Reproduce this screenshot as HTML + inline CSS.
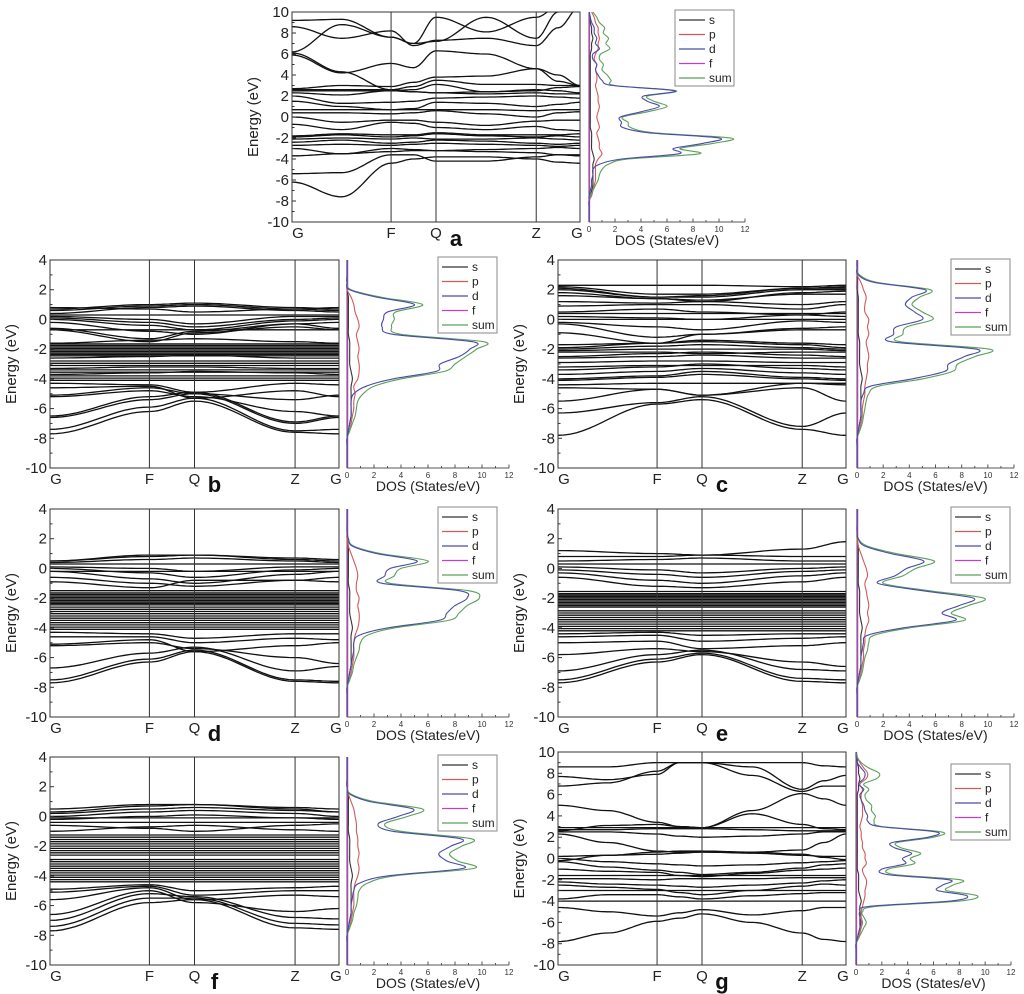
<!DOCTYPE html>
<html><head><meta charset="utf-8"><style>
body{margin:0;background:#fff;}
svg{display:block;font-family:"Liberation Sans",sans-serif;}
</style></head><body>
<svg id="fig" width="1024" height="994" viewBox="0 0 1024 994" xmlns="http://www.w3.org/2000/svg"></svg>
<script>
// ---- shared labels ----
const kLabels = ["G","F","Q","Z","G"];
const dosTicks = [0,2,4,6,8,10,12];
const legendLabels = ["s","p","d","f","sum"];

// ---- band data (energies at G,F,Q,Z,G or 9 knots incl. midpoints; number = flat band) ----
const bandsA = [
[-6.2,-7.6,-4.4,-4.0,-3.8,-3.8,-4.0,-4.3,-4.4],[-5.4,-5.3,-3.6,-3.6,-4.2,-4.2,-3.8,-3.6,-3.6],
[-3.7,-3.5,-3.3,-3.2,-3.2,-3.3,-3.4,-3.6,-3.7],[-3.0,-3.5,-3.0,-3.1,-3.2,-3.1,-3.0,-2.9,-3.0],
[-2.7,-2.6,-2.7,-2.6,-2.5,-2.6,-2.7,-2.8,-2.7],[-2.4,-2.2,-2.5,-2.4,-2.2,-2.3,-2.5,-2.6,-2.5],
[-2.1,-2.0,-2.1,-2.0,-2.1,-2.1,-2.0,-2.1,-2.2],[-1.9,-1.7,-1.9,-1.8,-1.6,-1.8,-1.9,-1.8,-1.9],
[-1.8,-1.6,-1.7,-1.7,-1.5,-1.7,-1.7,-1.7,-1.6],[-0.7,-1.2,-0.5,-0.6,-1.0,-1.2,-0.9,-1.2,-1.3],
[0.0,-0.5,-0.3,-0.3,-0.5,-0.8,-0.4,-0.3,-0.3],[0.4,0.4,0.3,0.4,0.6,0.3,0.0,0.4,0.5],
[0.7,0.7,0.7,0.7,0.7,0.7,0.6,0.7,0.7],[1.5,1.0,0.7,0.8,1.4,1.3,1.0,1.2,1.4],
[2.0,1.3,1.4,1.5,1.8,1.9,2.0,1.9,1.8],[2.3,2.1,2.5,2.4,2.3,2.2,2.3,2.2,2.2],
[2.5,2.5,2.5,2.6,3.1,2.4,2.5,2.8,2.9],[2.6,2.6,2.6,2.9,3.5,3.1,3.1,3.0,3.0],
[2.7,3.0,2.9,3.3,3.8,3.9,4.6,3.4,3.0],[5.9,4.2,5.1,4.7,6.3,6.0,4.6,4.0,3.0],
[6.1,4.3,2.6,2.4,2.3,2.4,2.6,2.5,2.3],[8.6,7.5,8.2,6.8,7.3,7.5,6.8,8.5,10.5],
[9.2,9.3,7.6,7.0,9.5,8.1,9.5,10.5,11],[6.2,8.8,7.6,7.0,7.2,9.5,7.5,10,11]
];
const bandsB = [
[-7.7,-6.2,-5.5,-7.6,-7.7],[-7.4,-5.9,-5.3,-7.5,-7.4],[-6.6,-5.4,-5.0,-7.0,-6.6],[-6.5,-5.2,-4.9,-6.9,-6.5],
[-5.1,-4.6,-5.0,-5.4,-5.1],[-5.2,-4.8,-5.2,-6.2,-6.5],[-4.6,-4.5,-5.3,-4.8,-5.2],[-4.3,-4.4,-4.9,-4.3,-4.4],
-4.1,-3.95,-3.8,[-3.7,-3.6,-3.5,-3.6,-3.7],-3.55,-3.4,[-3.3,-3.2,-3.2,-3.3,-3.3],-3.1,-2.95,-2.8,
[-2.6,-2.5,-2.4,-2.6,-2.6],-2.45,-2.35,-2.25,-2.15,-2.05,-1.95,-1.85,-1.75,-1.65,[-1.6,-1.4,-1.3,-1.5,-1.6],
[-0.7,-1.5,-0.9,-0.5,-0.7],[-0.6,-1.3,-0.8,-0.3,-0.6],-0.7,[-0.2,-0.8,-1.0,-0.3,-0.2],[0,-0.4,-0.7,-0.1,0],
[0.1,-0.2,-0.5,0.0,0.1],[0.2,0.0,-0.3,0.2,0.2],0.3,[0.4,0.8,0.9,0.6,0.5],[0.6,0.9,1.0,0.7,0.6],
[0.7,1.0,1.1,0.8,0.7],[0.8,0.7,0.5,0.7,0.8]
];
const bandsC = [
[-7.8,-5.7,-5.4,-7.4,-7.8],[-6.3,-5.6,-5.2,-7.2,-6.3],[-5.5,-4.7,-5.1,-4.6,-5.5],[-4.6,-4.7,-5.1,-4.3,-4.3],
[-4.4,-4.3,-4.3,-4.3,-4.4],[-4.1,-3.9,-3.7,-4.0,-4.1],[-4.0,-3.8,-3.5,-3.9,-4.0],[-3.7,-3.5,-3.3,-3.6,-3.7],
[-3.4,-3.2,-3.0,-3.3,-3.4],[-3.2,-3.1,-3.1,-3.1,-3.2],[-2.9,-2.8,-2.8,-2.9,-2.9],[-2.6,-2.5,-2.4,-2.6,-2.6],
[-2.5,-2.3,-2.2,-2.4,-2.5],[-2.2,-2.2,-2.3,-2.2,-2.2],[-2.1,-2.0,-2.0,-2.0,-2.1],[-2.0,-1.8,-1.7,-1.9,-2.0],
[-1.9,-1.6,-1.5,-1.7,-1.9],[-1.7,-1.6,-1.4,-1.6,-1.7],[-0.9,-1.6,-1.0,-0.7,-0.7],[-0.3,-1.2,-1.0,-0.6,-0.5],
[-0.2,-0.5,-0.7,-0.1,-0.2],0,[0.2,0.1,0.0,0.3,0.2],0.4,[0.5,0.7,0.5,0.3,0.5],[0.9,1.0,1.0,0.7,1.0],
[1.2,1.1,1.2,1.0,1.2],[1.6,1.4,1.3,1.7,1.7],[1.8,1.4,1.2,1.8,1.9],[2.0,1.5,1.5,2.0,2.0],[2.1,1.5,1.6,2.1,2.1],
[2.2,1.7,1.7,2.1,2.2],[2.3,2.3,2.3,2.2,2.3]
];
const bandsD = [
[-7.7,-6.3,-5.6,-7.6,-7.7],[-7.5,-6.1,-5.5,-7.5,-7.6],[-6.7,-5.7,-5.3,-6.9,-6.6],[-5.2,-5.0,-5.4,-6.0,-6.4],
[-5.1,-4.8,-5.6,-5.2,-5.0],[-4.6,-4.6,-5.0,-4.7,-4.8],[-4.3,-4.4,-4.7,-4.4,-4.4],
-4.1,-3.95,-3.8,-3.65,-3.5,-3.35,-3.2,-3.05,-2.9,-2.75,-2.6,-2.45,-2.35,-2.25,-2.15,-2.05,-1.95,-1.85,-1.75,-1.65,-1.5,
[-0.9,-1.3,-0.8,-0.8,-0.9],[-0.6,-1.0,-1.2,-0.8,-0.6],[-0.2,-0.7,-1.0,-0.4,-0.2],[0.0,-0.3,-0.6,-0.1,0.0],
[0.1,0.0,-0.2,0.1,0.1],0.3,[0.4,0.6,0.7,0.5,0.4],[0.5,0.8,0.9,0.6,0.5],[0.5,0.9,0.9,0.7,0.6],-0.2
];
const bandsE = [
[-7.7,-6.3,-5.8,-7.6,-7.7],[-7.5,-6.1,-5.7,-7.4,-7.5],[-6.9,-5.8,-5.5,-6.8,-6.9],[-5.8,-5.4,-5.6,-6.3,-6.6],
[-5.0,-4.9,-5.4,-5.2,-5.0],[-4.6,-4.5,-4.9,-4.7,-4.6],[-4.4,-4.3,-4.5,-4.4,-4.4],
-4.2,-4.05,-3.9,-3.75,-3.6,-3.45,-3.3,-3.15,-3.0,-2.85,-2.6,-2.5,-2.4,-2.3,-2.2,-2.1,-2.0,-1.9,-1.8,-1.7,-1.55,
[-0.6,-1.2,-1.3,-0.9,-0.6],[-0.3,-0.8,-1.0,-0.5,-0.3],[-0.1,-0.4,-0.6,-0.2,-0.1],[0.1,-0.1,-0.3,0.0,0.1],
0.3,[0.5,0.6,0.7,0.5,0.5],[0.8,0.8,0.9,0.8,0.8],[1.2,1.0,0.9,1.3,1.8]
];
const bandsF = [
[-7.7,-5.8,-5.6,-7.5,-7.6],[-7.4,-5.5,-5.5,-7.2,-7.3],[-7.0,-5.2,-5.4,-6.8,-6.9],[-6.6,-5.0,-5.8,-6.4,-6.2],
[-5.6,-4.8,-5.6,-5.3,-5.4],[-5.1,-4.7,-5.3,-5.0,-5.0],[-4.9,-4.6,-5.0,-4.8,-4.7],
-4.4,-4.25,-4.1,-3.95,-3.8,-3.65,-3.5,-3.35,-3.2,-3.05,-2.9,-2.6,-2.45,-2.3,-2.15,-2.0,-1.85,-1.7,-1.55,-1.4,-1.25,
[-1.0,-0.7,-0.6,-0.9,-1.0],[-0.6,-0.8,-1.0,-0.6,-0.5],-0.4,[-0.2,0.0,0.1,-0.1,-0.2],[0.0,0.3,0.4,0.2,0.0],
[0.2,0.5,0.6,0.4,0.3],[0.3,0.7,0.8,0.5,0.3],[0.5,0.8,0.8,0.6,0.5],-0.1
];
const bandsG = [
[-7.8,-7.0,-5.9,-5.6,-5.2,-6.0,-7.0,-7.6,-7.8],[-4.6,-5.0,-5.4,-5.1,-4.8,-5.3,-4.9,-4.6,-4.6],
-4.0,[-3.8,-3.4,-3.4,-3.6,-3.8,-3.5,-3.3,-3.2,-3.2],-3.0,[-2.5,-2.7,-2.9,-3.2,-3.4,-3.0,-2.6,-2.4,-2.5],
[-2.2,-2.4,-2.5,-2.6,-2.7,-2.5,-2.3,-2.1,-2.0],[-1.9,-1.9,-2.0,-1.9,-1.9,-1.9,-1.8,-1.8,-1.8],-1.6,
[-1.0,-1.2,-1.3,-1.6,-1.7,-1.4,-1.1,-1.0,-0.9],[-0.3,-0.8,-1.1,-1.3,-1.5,-1.3,-0.9,-0.6,-0.5],
[-0.2,0.3,0.6,0.7,0.7,0.6,0.4,0.1,-0.1],[0.0,-0.3,-0.5,-0.6,-0.7,-0.6,-0.4,-0.3,-0.2],
[0.2,0.3,0.4,0.5,0.6,0.5,0.3,0.2,0.2],[2.3,1.5,0.7,0.6,0.6,0.6,0.8,1.5,2.3],
[2.5,2.5,2.3,2.1,2.0,2.1,2.3,2.5,2.5],[2.7,2.7,2.8,2.8,2.8,2.7,2.6,2.6,2.6],2.9,
[2.6,3.1,3.2,3.0,2.9,4.2,3.2,2.8,2.7],[5.0,4.5,3.4,3.0,2.9,4.5,6.1,5.6,5.0],
[6.8,7.1,8.2,9.0,9.0,7.8,6.3,6.8,6.8],[7.7,7.4,7.9,9.0,9.0,8.6,6.5,7.3,7.8],[8.6,8.6,9.0,9.0,9.0,9.0,9.0,8.7,8.6]
];

// ---- DOS data (grid from Emin in 0.5 eV steps) ----
const sumA=[0,0,0,0,0,0.1,0.3,0.5,0.7,0.8,1.0,1.5,3.0,8.5,7.0,9.6,10.9,5.0,3.2,3.0,2.6,4.5,6.0,5.0,4.5,6.7,2.0,1.7,1.4,1.0,1.1,0.8,0.9,1.6,1.3,1.5,1.1,1.2,0.8,0.6,0.3];
const dA=[0,0,0,0,0,0,0.1,0.2,0.2,0.3,0.3,0.8,2.5,6.9,6.5,8.8,10.0,4.6,2.6,2.5,2.4,4.0,5.4,4.5,4.2,6.6,1.8,1.0,0.7,0.5,0.6,0.3,0.3,0.8,0.5,0.6,0.4,0.4,0.2,0.1,0];
const pA=[0,0,0,0,0,0.2,0.3,0.4,0.5,0.5,0.5,0.5,0.7,1.0,0.8,0.8,0.7,0.6,0.8,0.7,0.6,0.7,0.8,0.7,0.7,0.6,0.5,0.6,0.6,0.5,0.6,0.4,0.5,0.7,0.7,0.8,0.7,0.7,0.5,0.4,0.2];
const sA=[0,0,0,0,0,0.1,0.2,0.3,0.3,0.3,0.3,0.3,0.4,0.3,0.2,0.2,0.2,0.2,0.1,0.1,0.1,0.1,0.1,0.1,0.1,0.1,0.1,0.1,0.1,0.1,0.1,0.1,0.1,0.2,0.2,0.3,0.2,0.2,0.1,0.1,0];
const fA=[0.05,0.05,0.05,0.05,0.05,0.05,0.05,0.05,0.05,0.05,0.05,0.05,0.05,0.05,0.05,0.05,0.05,0.05,0.05,0.05,0.05,0.05,0.05,0.05,0.05,0.05,0.05,0.05,0.05,0.05,0.05,0.05,0.05,0.05,0.05,0.05,0.05,0.05,0.05,0.05,0.05];
const sumB=[0,0,0,0,0,0.2,0.4,0.6,0.7,0.8,1.2,2.0,4.0,7.2,8.0,8.8,9.6,10.1,4.0,3.3,3.5,3.6,5.6,2.5,0.3,0,0,0,0];
const dB=[0,0,0,0,0,0.1,0.2,0.3,0.3,0.3,0.5,1.4,3.4,6.6,6.9,8.3,9.1,9.3,3.4,2.6,2.7,3.0,5.0,2.2,0.2,0,0,0,0];
const pB=[0,0,0,0,0,0.2,0.3,0.4,0.5,0.5,0.6,0.5,0.8,0.9,0.9,0.8,0.9,0.8,0.7,0.9,0.8,0.6,0.5,0.3,0,0,0,0,0];
const sB=[0,0,0,0,0,0.1,0.2,0.3,0.3,0.3,0.3,0.3,0.4,0.3,0.2,0.2,0.2,0.2,0.1,0.1,0.1,0.1,0.1,0.1,0,0,0,0,0];
const fB=[0.05,0.05,0.05,0.05,0.05,0.05,0.05,0.05,0.05,0.05,0.05,0.05,0.05,0.05,0.05,0.05,0.05,0.05,0.05,0.05,0.05,0.05,0.05,0.05,0.05,0.05,0.05,0.05,0.05];
const sumC=[0,0,0,0,0,0.2,0.4,0.5,0.6,0.7,0.9,1.6,5.0,7.3,7.7,9.0,10.1,3.3,3.5,3.8,5.8,5.0,4.2,4.8,5.6,1.5,0.2,0,0];
const dC=[0,0,0,0,0,0.1,0.2,0.3,0.3,0.3,0.5,1.0,4.2,6.7,7.0,8.2,9.1,2.6,2.8,3.0,5.0,4.4,3.7,4.2,5.2,1.3,0.1,0,0];
const pC=[0,0,0,0,0,0.2,0.3,0.4,0.4,0.5,0.6,0.6,0.7,0.8,0.8,0.9,0.8,0.7,0.9,0.8,0.9,0.6,0.6,0.7,0.5,0.3,0,0,0];
const sumD=[0,0,0,0,0,0.2,0.4,0.5,0.7,0.9,1.0,1.5,3.5,7.5,8.3,8.9,9.8,9.0,3.2,3.5,4.0,6.0,2.5,0.5,0.1,0,0,0,0];
const dD=[0,0,0,0,0,0.1,0.2,0.3,0.4,0.5,0.5,0.9,3.0,6.8,7.4,8.0,8.9,8.3,2.6,2.8,3.2,5.2,2.2,0.4,0.1,0,0,0,0];
const pD=[0,0,0,0,0,0.2,0.3,0.4,0.5,0.5,0.5,0.6,0.8,0.9,0.9,0.8,0.9,0.7,0.7,0.8,0.7,0.5,0.3,0.1,0,0,0,0,0];
const sumE=[0,0,0,0,0,0.2,0.4,0.5,0.6,0.8,0.9,1.3,4.0,8.2,7.2,8.5,9.7,5.5,2.0,3.5,4.5,5.9,3.0,0.8,0.1,0,0,0,0];
const dE=[0,0,0,0,0,0.1,0.2,0.3,0.3,0.4,0.5,0.8,3.5,7.5,6.5,7.8,8.9,5.0,1.6,2.9,3.8,5.1,2.6,0.6,0.1,0,0,0,0];
const pE=[0,0,0,0,0,0.2,0.3,0.4,0.5,0.5,0.6,0.6,0.7,0.9,0.8,0.9,0.8,0.7,0.6,0.8,0.7,0.5,0.3,0.1,0,0,0,0,0];
const sumF=[0,0,0,0,0,0.2,0.4,0.5,0.7,0.8,0.9,1.5,3.5,9.4,8.2,7.6,8.5,9.2,4.0,2.8,4.5,5.6,2.0,0.3,0,0,0,0,0];
const dF=[0,0,0,0,0,0.1,0.2,0.3,0.3,0.4,0.5,0.9,3.0,8.6,7.4,6.8,7.7,8.4,3.4,2.3,3.8,4.9,1.7,0.2,0,0,0,0,0];
const pF=[0,0,0,0,0,0.2,0.3,0.4,0.5,0.5,0.5,0.6,0.8,0.9,0.8,0.9,0.8,0.8,0.7,0.7,0.6,0.5,0.3,0.1,0,0,0,0,0];
const sumG=[0,0,0,0,0,0.2,0.4,0.6,0.8,0.6,0.5,1.5,8.0,9.4,7.0,7.5,8.1,3.0,2.5,4.5,4.2,5.0,3.5,3.2,6.0,6.6,2.0,1.4,1.5,1.2,1.2,0.8,0.7,1.0,0.6,1.6,1.8,1.0,0.4,0.1,0];
const dG=[0,0,0,0,0,0.1,0.2,0.3,0.4,0.3,0.3,1.0,7.3,8.6,6.3,6.7,7.2,2.4,2.0,3.8,3.6,4.3,3.0,2.8,5.6,6.2,1.8,0.9,0.9,0.7,0.6,0.4,0.3,0.6,0.2,0.6,0.7,0.4,0.1,0,0];
const pG=[0,0,0,0,0,0.2,0.3,0.4,0.5,0.4,0.4,0.5,0.6,0.7,0.7,0.8,0.8,0.6,0.5,0.8,0.7,0.7,0.5,0.5,0.4,0.4,0.3,0.4,0.5,0.5,0.5,0.4,0.4,0.5,0.3,0.8,0.9,0.6,0.3,0.1,0];

const KP=[0,0.344,0.5,0.848,1];
const COL={s:"#333",p:"#d05a5a",d:"#4a4aa8",f:"#c040c8",sum:"#5aa05a"};
const panels=[
 {id:"a",x0:292,x1:580,y0:12,y1:222,emin:-10,emax:10,dx0:589,dx1:745,lx:675,ly:10,bands:bandsA,dos:{s:sA,p:pA,d:dA,f:fA,sum:sumA}},
 {id:"b",x0:50,x1:339,y0:260,y1:468,emin:-10,emax:4,dx0:347,dx1:509,lx:438,ly:257,bands:bandsB,dos:{s:sB,p:pB,d:dB,f:fB,sum:sumB}},
 {id:"c",x0:558,x1:846,y0:260,y1:468,emin:-10,emax:4,dx0:857,dx1:1014,lx:951,ly:259,bands:bandsC,dos:{s:sB,p:pC,d:dC,f:fB,sum:sumC}},
 {id:"d",x0:50,x1:339,y0:509,y1:717,emin:-10,emax:4,dx0:347,dx1:509,lx:438,ly:507,bands:bandsD,dos:{s:sB,p:pD,d:dD,f:fB,sum:sumD}},
 {id:"e",x0:558,x1:846,y0:509,y1:717,emin:-10,emax:4,dx0:857,dx1:1014,lx:951,ly:507,bands:bandsE,dos:{s:sB,p:pE,d:dE,f:fB,sum:sumE}},
 {id:"f",x0:50,x1:339,y0:757,y1:965,emin:-10,emax:4,dx0:347,dx1:509,lx:438,ly:755,bands:bandsF,dos:{s:sB,p:pF,d:dF,f:fB,sum:sumF}},
 {id:"g",x0:558,x1:846,y0:752,y1:965,emin:-10,emax:10,dx0:856,dx1:1011,lx:951,ly:764,bands:bandsG,dos:{s:sA,p:pG,d:dG,f:fA,sum:sumG}}
];
const NS="http://www.w3.org/2000/svg";
const svg=document.getElementById("fig");
function mk(tag,attrs,parent,txt){const e=document.createElementNS(NS,tag);for(const k in attrs)e.setAttribute(k,attrs[k]);if(txt!==undefined)e.textContent=txt;(parent||svg).appendChild(e);return e;}
function smoothPath(pts){
 let d="M"+pts[0][0].toFixed(1)+","+pts[0][1].toFixed(1);
 for(let i=0;i<pts.length-1;i++){
  const p0=pts[Math.max(0,i-1)],p1=pts[i],p2=pts[i+1],p3=pts[Math.min(pts.length-1,i+2)];
  const c1x=p1[0]+(p2[0]-p0[0])/6,c1y=p1[1]+(p2[1]-p0[1])/6;
  const c2x=p2[0]-(p3[0]-p1[0])/6,c2y=p2[1]-(p3[1]-p1[1])/6;
  d+="C"+c1x.toFixed(1)+","+c1y.toFixed(1)+" "+c2x.toFixed(1)+","+c2y.toFixed(1)+" "+p2[0].toFixed(1)+","+p2[1].toFixed(1);
 }
 return d;
}

panels.forEach(P=>{
 const g=mk("g",{});
 
 
 const W=P.x1-P.x0;
 const xk=f=>P.x0+f*W;
 const yE=e=>P.y1-(e-P.emin)/(P.emax-P.emin)*(P.y1-P.y0);
 const clip=mk("clipPath",{id:"clip"+P.id},g);
 mk("rect",{x:P.x0,y:P.y0,width:W,height:P.y1-P.y0},clip);
 const bg=mk("g",{"clip-path":"url(#clip"+P.id+")"},g);
 
 
 P.bands.forEach((b,bi)=>{
  let vals=typeof b==="number"?[b,b,b,b,b]:b;
  let knots=KP;
  if(vals.length===9){knots=[];for(let i=0;i<4;i++){knots.push(KP[i],(KP[i]+KP[i+1])/2);}knots.push(1);}
  let d="";
  for(let i=0;i<knots.length-1;i++){
   const n=16;
   for(let j=(i===0?0:1);j<=n;j++){
    const t=j/n,w=(1-Math.cos(Math.PI*t))/2;
    const v=vals[i]+(vals[i+1]-vals[i])*w;
    const x=xk(knots[i]+(knots[i+1]-knots[i])*t);
    d+=(d?"L":"M")+x.toFixed(1)+","+yE(v).toFixed(1);
   }
  }
  const p=mk("path",{d:d,fill:"none",stroke:"#111","stroke-width":1.3},bg);
  
  
 });
 const fr=mk("rect",{x:P.x0,y:P.y0,width:W,height:P.y1-P.y0,fill:"none",stroke:"#333","stroke-width":1},g);
 
 
 [1,2,3].forEach(i=>{const l=mk("line",{x1:xk(KP[i]),x2:xk(KP[i]),y1:P.y0,y2:P.y1,stroke:"#333","stroke-width":1},g);
  
  });
 for(let e=P.emin;e<=P.emax;e+=1){
  const y=yE(e);const major=(e-P.emin)%2===0;
  mk("line",{x1:P.x0,x2:P.x0+(major?4:2.5),y1:y,y2:y,stroke:"#333"},g);
  if(major){const t=mk("text",{x:P.x0-3,y:y+5,"text-anchor":"end","font-size":15,fill:"#222"},g,String(e));
   
   }
 }
 const yl=mk("text",{x:0,y:0,transform:`translate(${P.x0-34},${(P.y0+P.y1)/2}) rotate(-90)`,"text-anchor":"middle","font-size":15,fill:"#222"},g,"Energy (eV)");
 
 
 kLabels.forEach((L,i)=>{const off=i===0?6:(i===4?-3:0);
  const t=mk("text",{x:xk(KP[i])+off,y:P.y1+16,"text-anchor":"middle","font-size":15,fill:"#222"},g,L);
  
  });
 const pl=mk("text",{x:xk(KP[2])+20,y:P.y1+24,"text-anchor":"middle","font-size":22,"font-weight":"bold",fill:"#111"},g,P.id);
 
 
 const DW=P.dx1-P.dx0;const xd=v=>P.dx0+v/12*DW;
 mk("line",{x1:P.dx0,x2:P.dx0,y1:P.y0,y2:P.y1,stroke:"#555"},g);
 mk("line",{x1:P.dx0,x2:P.dx1,y1:P.y1,y2:P.y1,stroke:"#555"},g);
 for(let v=0;v<=12;v++){mk("line",{x1:xd(v),x2:xd(v),y1:P.y1,y2:P.y1-(v%2?2:3.5),stroke:"#555"},g);}
 dosTicks.forEach(v=>{const t=mk("text",{x:xd(v),y:P.y1+10,"text-anchor":"middle","font-size":8,fill:"#333"},g,String(v));
  
  });
 const dt=mk("text",{x:(P.dx0+P.dx1)/2,y:P.y1+23,"text-anchor":"middle","font-size":14,fill:"#222"},g,"DOS (States/eV)");
 
 
 ["f","s","p","sum","d"].forEach(k=>{
  const arr=P.dos[k];const pts=[];
  arr.forEach((v,i)=>{const e=P.emin+i*0.5;if(e>P.emax)return;pts.push([xd(v),yE(e)]);});
  const p=mk("path",{d:smoothPath(pts),fill:"none",stroke:COL[k],"stroke-width":1.1,"stroke-linejoin":"round"},g);
  
  
 });
 const lg=mk("g",{},g);
 
 
 mk("rect",{x:P.lx,y:P.ly,width:59,height:76,fill:"#fff",stroke:"#888"},lg);
 legendLabels.forEach((L,i)=>{const y=P.ly+10+i*14.5;
  mk("line",{x1:P.lx+4,x2:P.lx+30,y1:y,y2:y,stroke:COL[L],"stroke-width":1.2},lg);
  const t=mk("text",{x:P.lx+34,y:y+4,"font-size":12,fill:"#222"},lg,L);
  
  });
});
</script>
</body></html>
